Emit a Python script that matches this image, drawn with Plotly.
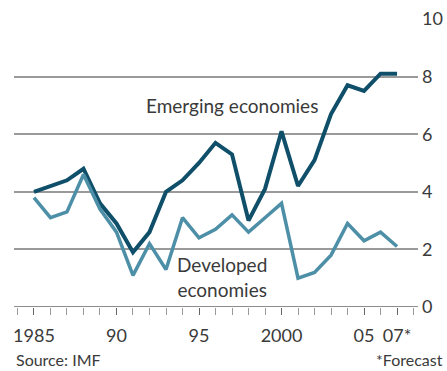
import plotly.graph_objects as go

years = list(range(1985, 2008))
emerging = [4.0, 4.2, 4.4, 4.8, 3.6, 2.9, 1.9, 2.6, 4.0, 4.4, 5.0, 5.7, 5.3, 3.0, 4.1, 6.1, 4.2, 5.1, 6.7, 7.7, 7.5, 8.1, 8.1]
developed = [3.8, 3.1, 3.3, 4.6, 3.4, 2.6, 1.1, 2.2, 1.3, 3.1, 2.4, 2.7, 3.2, 2.6, 3.1, 3.6, 1.0, 1.2, 1.8, 2.9, 2.3, 2.6, 2.1]
x_tickvals = [1985, 1990, 1995, 2000, 2005, 2007]
x_ticktext = ["1985", "90", "95", "2000", "05", "07*"]
y_tickvals = [0, 2, 4, 6, 8, 10]

FONT = "Lato"
TXT = "#3a3a3a"

fig = go.Figure()
fig.add_trace(go.Scatter(x=years, y=emerging, mode="lines",
                         line=dict(color="#0f4f69", width=4), name="Emerging economies"))
fig.add_trace(go.Scatter(x=years, y=developed, mode="lines",
                         line=dict(color="#4e8fa8", width=3.5), name="Developed economies"))

fig.update_layout(
    width=447, height=371,
    margin=dict(l=14, r=29, t=19, b=64),
    paper_bgcolor="white", plot_bgcolor="white",
    showlegend=False,
    font=dict(family=FONT, size=16, color=TXT),
    xaxis=dict(range=[1983.79, 2008.27], tickvals=x_tickvals, ticktext=x_ticktext,
               ticks="outside", ticklen=7, tickcolor="#666", tickwidth=1.3,
               minor=dict(dtick=1, tick0=1985, ticks="outside", ticklen=7, tickcolor="#999", tickwidth=1.3),
               showgrid=False, zeroline=False, showline=False, automargin=False,
               ticklabelstandoff=5,
               tickfont=dict(family=FONT, size=18, color=TXT)),
    yaxis=dict(range=[0, 10], tickvals=y_tickvals, side="right",
               showgrid=True, gridcolor="#9a9a9a", gridwidth=1.5,
               zeroline=False, showline=False, ticks="", ticklabelstandoff=3,
               automargin=False,
               tickfont=dict(family=FONT, size=18, color=TXT)),
)

fig.add_shape(type="line", xref="paper", yref="y", x0=0, x1=1, y0=0, y1=0,
              line=dict(color="#666", width=1.5), layer="below")

fig.add_annotation(x=1997.0, y=7.0, text="Emerging economies", showarrow=False,
                   font=dict(family=FONT, size=19, color=TXT))
fig.add_annotation(x=1996.4, y=1.04, text="Developed<br>economies", showarrow=False,
                   font=dict(family=FONT, size=19, color=TXT))
fig.add_annotation(xref="paper", yref="paper", x=0, y=-0.184, xanchor="left", yanchor="middle",
                   text="Source: IMF", showarrow=False,
                   font=dict(family=FONT, size=16, color=TXT))
fig.add_annotation(xref="paper", yref="paper", x=1.067, y=-0.184, xanchor="right", yanchor="middle",
                   text="*Forecast", showarrow=False,
                   font=dict(family=FONT, size=16, color=TXT))

fig.write_html("out.html")
